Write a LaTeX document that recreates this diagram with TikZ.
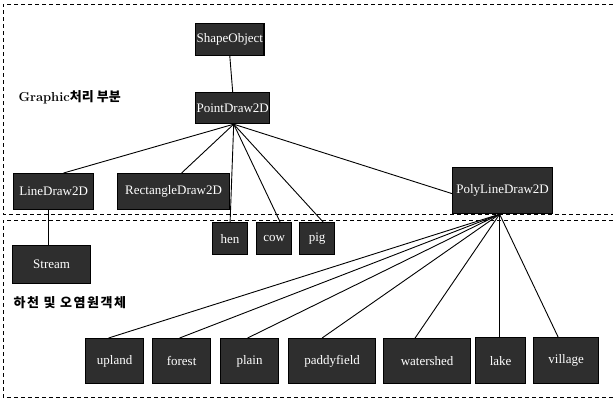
\documentclass[tikz,border=0pt]{standalone}
\usepackage{fontspec}
\newfontfamily\kr{Noto Sans CJK KR}
\newfontfamily\krw[LetterSpace=12]{Noto Sans CJK KR}
\newfontfamily\boxfont{Liberation Serif}
\begin{document}
\begin{tikzpicture}[x=1pt,y=-1pt,
  box/.style={draw=black,line width=1.2pt,fill=black!82,text=white,font=\boxfont\fontsize{13}{14}\selectfont,inner sep=1pt,anchor=north west},
  conn/.style={line width=0.9pt},
  sep/.style={line width=1pt,dash pattern=on 4pt off 3pt}]
\useasboundingbox (0,0) rectangle (613,400);
% regions
\draw[sep] (613,4) -- (3,4) -- (3,214) -- (613,214);
\draw[sep] (613,220) -- (3,220) -- (3,397) -- (613,397);
% labels
\node[anchor=west,font=\bfseries\fontsize{13}{14}\selectfont] (lab1) at (15,97) {Graphic{\kr\bfseries 처리 부분}};
\node[anchor=west,font=\krw\bfseries\fontsize{13}{14}\selectfont] (lab2) at (10,303) {하천 및 오염원객체};
% nodes
\node[box,minimum width=68pt,minimum height=32pt] (shape) at (195,23) {ShapeObject};
\node[box,minimum width=69pt,minimum height=31pt] (point) at (195,92) {PointDraw2D};
\node[box,minimum width=80pt,minimum height=36pt] (line) at (13,173) {LineDraw2D};
\node[box,minimum width=112pt,minimum height=36pt] (rect) at (117,173) {RectangleDraw2D};
\node[box,minimum width=100pt,minimum height=46pt] (poly) at (452,167) {PolyLineDraw2D};
\node[box,minimum width=35pt,minimum height=32pt] (hen) at (212,222) {hen};
\node[box,minimum width=35pt,minimum height=32pt] (cow) at (256,222) {cow};
\node[box,minimum width=35pt,minimum height=32pt] (pig) at (299,222) {pig};
\node[box,minimum width=78pt,minimum height=38pt] (stream) at (12,245) {Stream};
\node[box,minimum width=58pt,minimum height=45pt] (upland) at (85,338) {upland};
\node[box,minimum width=58pt,minimum height=45pt] (forest) at (152,338) {forest};
\node[box,minimum width=58pt,minimum height=45pt] (plain) at (220,338) {plain};
\node[box,minimum width=87pt,minimum height=45pt] (paddy) at (288,338) {paddyfield};
\node[box,minimum width=87pt,minimum height=45pt] (water) at (383,338) {watershed};
\node[box,minimum width=50pt,minimum height=46pt] (lake) at (475,337) {lake};
\node[box,minimum width=65pt,minimum height=46pt] (village) at (533,337) {village};
% connectors
\draw[conn] (shape.south) -- (point.north);
\coordinate (pb) at ([xshift=1pt]point.south);
\draw[conn] (pb) -- ([xshift=10pt]line.north);
\draw[conn] (pb) -- ([xshift=8pt]rect.north);
\draw[conn] (pb) -- (hen.north);
\draw[conn] (pb) -- ([xshift=6pt]cow.north);
\draw[conn] (pb) -- ([xshift=6pt]pig.north);
\draw[conn] (pb) -- ([yshift=-3pt]poly.west);
\draw[conn] ([xshift=-5pt]line.south) -- ([xshift=-3pt]stream.north);
\coordinate (qb) at ([xshift=-3pt]poly.south);
\draw[conn] (qb) -- ([xshift=-6pt]upland.north);
\draw[conn] (qb) -- ([xshift=-2pt]forest.north);
\draw[conn] (qb) -- ([xshift=-2pt]plain.north);
\draw[conn] (qb) -- ([xshift=-10pt]paddy.north);
\draw[conn] (qb) -- ([xshift=-12pt]water.north);
\draw[conn] (qb) -- ([xshift=-1pt]lake.north);
\draw[conn] (qb) -- ([xshift=-8pt]village.north);
\end{tikzpicture}
\end{document}
